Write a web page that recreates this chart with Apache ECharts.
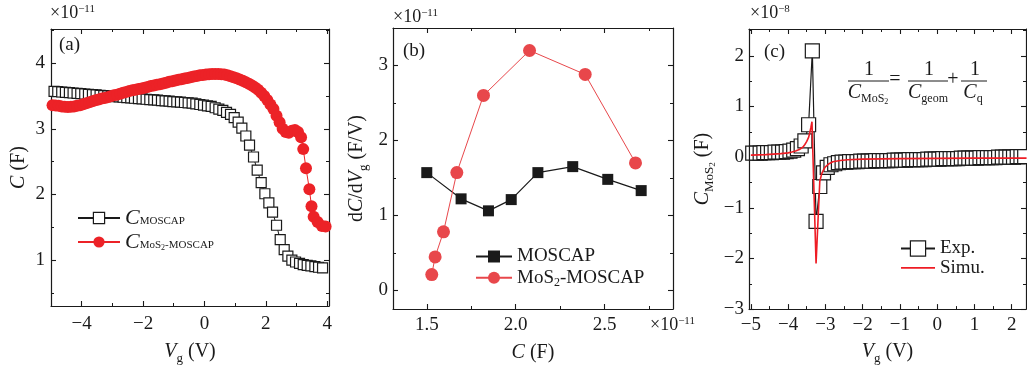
<!DOCTYPE html>
<html><head><meta charset="utf-8">
<script src="https://cdn.jsdelivr.net/npm/echarts@6/dist/echarts.min.js"></script>
<style>html,body{margin:0;padding:0;background:#fff}#c{width:1027px;height:370px}</style>
</head><body><div id="c"></div>
<script>
// ---------- Panel (a): C–Vg (x1e-11 F) ----------
const aVgMOSCAP = [-4.90,-4.78,-4.65,-4.53,-4.40,-4.28,-4.15,-4.03,-3.90,-3.78,-3.65,-3.53,-3.40,-3.28,-3.15,-3.03,-2.90,-2.78,-2.65,-2.53,-2.40,-2.28,-2.15,-2.03,-1.90,-1.78,-1.65,-1.53,-1.40,-1.28,-1.15,-1.03,-0.90,-0.78,-0.65,-0.53,-0.40,-0.28,-0.15,-0.03,0.10,0.22,0.35,0.47,0.60,0.72,0.85,0.97,1.10,1.22,1.35,1.47,1.60,1.72,1.85,1.97,2.10,2.22,2.35,2.47,2.60,2.72,2.85,2.97,3.10,3.22,3.35,3.47,3.60,3.72,3.85];
const aCMOSCAP = [3.57,3.565,3.56,3.555,3.55,3.545,3.54,3.535,3.53,3.525,3.52,3.515,3.51,3.505,3.50,3.495,3.49,3.485,3.48,3.475,3.47,3.465,3.46,3.455,3.45,3.445,3.44,3.435,3.43,3.425,3.42,3.415,3.41,3.405,3.40,3.395,3.39,3.38,3.37,3.36,3.35,3.34,3.32,3.30,3.28,3.25,3.22,3.17,3.10,3.01,2.89,2.75,2.57,2.37,2.18,2.01,1.87,1.73,1.53,1.31,1.16,1.06,1.00,0.97,0.95,0.93,0.92,0.91,0.90,0.89,0.88];
const aVgMoS2 = [-4.95,-4.85,-4.75,-4.65,-4.55,-4.45,-4.35,-4.25,-4.15,-4.05,-3.95,-3.85,-3.75,-3.65,-3.55,-3.45,-3.35,-3.25,-3.15,-3.05,-2.95,-2.85,-2.75,-2.65,-2.55,-2.45,-2.35,-2.25,-2.15,-2.05,-1.95,-1.85,-1.75,-1.65,-1.55,-1.45,-1.35,-1.25,-1.15,-1.05,-0.95,-0.85,-0.75,-0.65,-0.55,-0.45,-0.35,-0.25,-0.15,-0.05,0.05,0.15,0.25,0.35,0.45,0.55,0.65,0.75,0.85,0.95,1.05,1.15,1.25,1.35,1.45,1.55,1.65,1.75,1.85,1.95,2.05,2.15,2.25,2.35,2.45,2.55,2.65,2.75,2.85,2.95,3.05,3.15,3.22,3.31,3.42,3.49,3.56,3.69,3.83,3.95];
const aCMoS2 = [3.36,3.355,3.35,3.34,3.335,3.33,3.335,3.34,3.35,3.36,3.375,3.39,3.405,3.42,3.435,3.445,3.46,3.47,3.48,3.495,3.51,3.52,3.535,3.55,3.56,3.575,3.585,3.595,3.605,3.615,3.625,3.635,3.65,3.66,3.67,3.68,3.69,3.70,3.715,3.725,3.735,3.745,3.755,3.765,3.775,3.785,3.795,3.805,3.815,3.82,3.825,3.83,3.835,3.835,3.835,3.83,3.825,3.815,3.80,3.785,3.77,3.75,3.73,3.71,3.685,3.66,3.63,3.595,3.55,3.50,3.44,3.37,3.30,3.20,3.10,3.00,2.95,2.94,2.97,2.98,2.95,2.87,2.69,2.40,2.08,1.82,1.66,1.58,1.52,1.51];
const aXMajor = [-4,-2,0,2,4], aXMinor = [-5,-3,-1,1,3];
const aYMajor = [1,2,3,4], aYMinor = [0.5,1.5,2.5,3.5,4.5];

// ---------- Panel (b): dC/dVg vs C ----------
const bCMOSCAP = [1.50,1.693,1.847,1.975,2.125,2.321,2.518,2.706];
const bDMOSCAP = [1.57,1.22,1.06,1.21,1.57,1.65,1.48,1.33];
const bCMoS2 = [1.528,1.547,1.594,1.669,1.819,2.078,2.391,2.674];
const bDMoS2 = [0.21,0.445,0.78,1.57,2.60,3.20,2.88,1.70];
const bXMajor = [1.5,2.0,2.5], bXMinor = [1.75,2.25,2.75];
const bYMajor = [0,1,2,3], bYMinor = [0.5,1.5,2.5,3.5];

// ---------- Panel (c): C_MoS2 vs Vg (x1e-8 F) ----------
const cVgExp = [-4.95,-4.85,-4.75,-4.65,-4.55,-4.45,-4.35,-4.25,-4.15,-4.05,-3.95,-3.85,-3.75,-3.65,-3.55,-3.45,-3.35,-3.25,-3.15,-3.05,-2.95,-2.85,-2.75,-2.65,-2.55,-2.45,-2.35,-2.25,-2.15,-2.05,-1.95,-1.85,-1.75,-1.65,-1.55,-1.45,-1.35,-1.25,-1.15,-1.05,-0.95,-0.85,-0.75,-0.65,-0.55,-0.45,-0.35,-0.25,-0.15,-0.05,0.05,0.15,0.25,0.35,0.45,0.55,0.65,0.75,0.85,0.95,1.05,1.15,1.25,1.35,1.45,1.55,1.65,1.75,1.85,1.95,2.05,2.15,2.25,2.35];
const cExp = [0.08,0.08,0.08,0.09,0.09,0.09,0.10,0.10,0.10,0.11,0.12,0.14,0.17,0.22,0.32,0.64,2.10,-1.27,-0.58,-0.31,-0.20,-0.15,-0.13,-0.11,-0.10,-0.10,-0.09,-0.09,-0.09,-0.08,-0.08,-0.08,-0.08,-0.07,-0.07,-0.07,-0.07,-0.07,-0.06,-0.06,-0.06,-0.06,-0.05,-0.05,-0.05,-0.05,-0.05,-0.04,-0.04,-0.04,-0.04,-0.03,-0.03,-0.03,-0.03,-0.03,-0.02,-0.02,-0.02,-0.02,-0.02,-0.01,-0.01,-0.01,-0.01,-0.01,0.00,0.00,0.00,0.00,0.00,0.01,0.01,0.01];
const cVgSimu = [-5.0,-4.8,-4.6,-4.4,-4.2,-4.0,-3.9,-3.8,-3.7,-3.6,-3.55,-3.5,-3.45,-3.42,-3.39,-3.36,-3.25,-3.15,-3.1,-3.05,-3.0,-2.9,-2.8,-2.6,-2.4,-2.0,-1.0,0.0,1.0,2.4];
const cSimu = [0.04,0.045,0.05,0.06,0.07,0.085,0.10,0.12,0.15,0.20,0.25,0.31,0.39,0.48,0.58,0.70,-2.10,-0.48,-0.33,-0.25,-0.19,-0.13,-0.09,-0.065,-0.05,-0.04,-0.03,-0.025,-0.02,-0.02];
const cXMajor = [-5,-4,-3,-2,-1,0,1,2], cXMinor = [-4.5,-3.5,-2.5,-1.5,-0.5,0.5,1.5];
const cYMajor = [-3,-2,-1,0,1,2], cYMinor = [-2.5,-1.5,-0.5,0.5,1.5,2.5];

// ---------- style helpers ----------
const FONT = "'Liberation Serif', 'Times New Roman', serif";
const INK = '#1a1a1a';
const RED_A = '#ec2227', RED_B = '#e8474b', RED_C = '#ee1c24';
function tok(size, lh, extra) {
  return Object.assign({fontFamily: FONT, fontSize: size, lineHeight: lh, color: INK, fill: INK}, extra || {});
}
const TITLE_RICH = {
  n: tok(20, 24), i: tok(20, 24, {fontStyle: 'italic'}),
  s: tok(13, 24, {padding: [13, 0, 0, 0]}), ss: tok(9, 24, {padding: [20, 0, 0, 0]})
};
const minusFmt = v => String(v).replace('-', '\u2212');

function axesFor(dim, gi, o) {
  const pos = dim === 'x' ? ['bottom', 'top'] : ['left', 'right'];
  const base = {type: 'value', gridIndex: gi, min: o.min, max: o.max, splitLine: {show: false}, scale: true};
  const line = {show: true, onZero: false, lineStyle: {color: INK, width: 1.2}};
  const tickMaj = {show: true, inside: true, length: 5, customValues: o.major, lineStyle: {color: INK, width: 1.1}};
  const tickMin = {show: true, inside: true, length: 3, customValues: o.minor, lineStyle: {color: INK, width: 1}};
  return [
    Object.assign({}, base, {position: pos[0], axisLine: line, axisTick: tickMaj,
      axisLabel: {show: true, customValues: o.major, formatter: o.fmt || minusFmt, margin: o.margin,
        fontFamily: FONT, fontSize: 19, color: INK},
      name: o.name, nameLocation: 'middle', nameGap: o.nameGap,
      nameTextStyle: {fontFamily: FONT, color: INK, rich: TITLE_RICH}}),
    Object.assign({}, base, {position: pos[0], axisLine: {show: false, onZero: false}, axisTick: tickMin, axisLabel: {show: false}}),
    Object.assign({}, base, {position: pos[1], axisLine: line, axisTick: tickMaj, axisLabel: {show: false}}),
    Object.assign({}, base, {position: pos[1], axisLine: {show: false, onZero: false}, axisTick: tickMin, axisLabel: {show: false}})
  ];
}
const zip = (xs, ys) => xs.map((x, k) => [x, ys[k]]);

const xAxes = [].concat(
  axesFor('x', 0, {min: -5, max: 4.06, major: aXMajor, minor: aXMinor, margin: 9, name: '{i|V}{s|g}{n| (V)}', nameGap: 29}),
  axesFor('x', 1, {min: 1.31, max: 2.885, major: bXMajor, minor: bXMinor, margin: 7, fmt: v => Number(v).toFixed(1), name: '{i|C}{n| (F)}', nameGap: 32}),
  axesFor('x', 2, {min: -5.05, max: 2.385, major: cXMajor, minor: cXMinor, margin: 6, name: '{i|V}{s|g}{n| (V)}', nameGap: 30})
);
const yAxes = [].concat(
  axesFor('y', 0, {min: 0.3, max: 4.52, major: aYMajor, minor: aYMinor, margin: 6, name: '{i|C}{n| (F)}', nameGap: 20}),
  axesFor('y', 1, {min: -0.25, max: 3.5, major: bYMajor, minor: bYMinor, margin: 5, name: '{n|d}{i|C}{n|/d}{i|V}{s|g}{n| (F/V)}', nameGap: 24}),
  axesFor('y', 2, {min: -3, max: 2.53, major: cYMajor, minor: cYMinor, margin: 5, name: '{i|C}{s|MoS}{ss|2}{n| (F)}', nameGap: 34})
);

const series = [
  {name: 'C_MOSCAP', type: 'line', xAxisIndex: 0, yAxisIndex: 0, data: zip(aVgMOSCAP, aCMOSCAP),
   symbol: 'rect', symbolSize: 10, itemStyle: {color: '#fff', borderColor: INK, borderWidth: 1.2},
   lineStyle: {color: INK, width: 1}, z: 2},
  {name: 'C_MoS2-MOSCAP', type: 'line', xAxisIndex: 0, yAxisIndex: 0, data: zip(aVgMoS2, aCMoS2),
   symbol: 'circle', symbolSize: 12, itemStyle: {color: RED_A}, lineStyle: {color: RED_A, width: 1}, z: 3},
  {name: 'MOSCAP', type: 'line', xAxisIndex: 4, yAxisIndex: 4, data: zip(bCMOSCAP, bDMOSCAP),
   symbol: 'rect', symbolSize: 11, itemStyle: {color: INK}, lineStyle: {color: INK, width: 1.2}, z: 2},
  {name: 'MoS2-MOSCAP', type: 'line', xAxisIndex: 4, yAxisIndex: 4, data: zip(bCMoS2, bDMoS2),
   symbol: 'circle', symbolSize: 13, itemStyle: {color: RED_B}, lineStyle: {color: RED_B, width: 1}, z: 3},
  {name: 'Exp.', type: 'line', xAxisIndex: 8, yAxisIndex: 8, data: zip(cVgExp, cExp),
   symbol: 'rect', symbolSize: 14, itemStyle: {color: '#fff', borderColor: INK, borderWidth: 1.2},
   lineStyle: {color: INK, width: 1.2}, z: 2},
  {name: 'Simu.', type: 'line', xAxisIndex: 8, yAxisIndex: 8, data: zip(cVgSimu, cSimu),
   symbol: 'none', showSymbol: false, color: RED_C, itemStyle: {color: RED_C}, lineStyle: {color: RED_C, width: 1.6}, z: 3}
];

const legA = {'C_MOSCAP': '{i|C}{s|MOSCAP}', 'C_MoS2-MOSCAP': '{i|C}{s|MoS}{ss|2}{s|-MOSCAP}'};
const legB = {'MOSCAP': '{n|MOSCAP}', 'MoS2-MOSCAP': '{n|MoS}{s|2}{n|-MOSCAP}'};
const legends = [
  {orient: 'vertical', left: 77, top: 207, padding: 0, itemWidth: 42, itemHeight: 14, itemGap: 2,
   data: ['C_MOSCAP', 'C_MoS2-MOSCAP'], selectedMode: false, itemStyle: {borderWidth: 1.2},
   formatter: n => legA[n],
   textStyle: {fontFamily: FONT, color: INK, rich: {
     i: tok(22, 24, {fontStyle: 'italic'}), s: tok(11, 24, {padding: [6, 0, 0, 0]}), ss: tok(8, 24, {padding: [12, 0, 0, 0]})}}},
  {orient: 'vertical', left: 475, top: 247, padding: 0, itemWidth: 36, itemHeight: 15, itemGap: 0.3,
   data: ['MOSCAP', 'MoS2-MOSCAP'], selectedMode: false, itemStyle: {borderWidth: 0},
   formatter: n => legB[n],
   textStyle: {fontFamily: FONT, color: INK, rich: {
     n: tok(19, 19), s: tok(12, 19, {padding: [11, 0, 0, 0]})}}},
  {orient: 'vertical', left: 900, top: 239, padding: 0, itemWidth: 34, itemHeight: 19, itemGap: 0.4,
   data: [{name: 'Exp.'}, {name: 'Simu.', icon: 'path://M0,0H34V1.6H0Z', itemStyle: {borderWidth: 0}}],
   selectedMode: false, itemStyle: {borderWidth: 1.2},
   textStyle: {fontFamily: FONT, color: INK, fontSize: 19, lineHeight: 19}}
];

function gtext(x, y, text, rich, align) {
  return {type: 'text', x: x, y: y, z: 100, silent: true,
    style: {text: text, rich: rich, align: align || 'left', verticalAlign: 'middle',
      textAlign: align || 'left', textVerticalAlign: 'middle', fontFamily: FONT, fontSize: 19, fill: INK}};
}
function gline(x1, x2, y) {
  return {type: 'line', z: 100, silent: true, shape: {x1: x1, y1: y, x2: x2, y2: y}, style: {stroke: INK, lineWidth: 1}};
}
const EXP_RICH = {n: tok(18, 22), p: tok(11, 22, {padding: [0, 0, 8, 0]})};
const LAB_RICH = {n: tok(19, 22)};
const F_RICH = {n: tok(20, 24), i: tok(20, 24, {fontStyle: 'italic'}),
  s: tok(12, 24, {padding: [12, 0, 0, 0]}), ss: tok(8, 24, {padding: [18, 0, 0, 0]})};

const graphics = [
  gtext(50, 13, '{n|\u00d710}{p|\u221211}', EXP_RICH),
  gtext(393, 17, '{n|\u00d710}{p|\u221211}', EXP_RICH),
  gtext(650, 325, '{n|\u00d710}{p|\u221211}', EXP_RICH),
  gtext(750, 13, '{n|\u00d710}{p|\u22128}', EXP_RICH),
  gtext(59, 45, '{n|(a)}', LAB_RICH),
  gtext(403, 51, '{n|(b)}', LAB_RICH),
  gtext(764, 52, '{n|(c)}', LAB_RICH),
  // formula 1/C_MoS2 = 1/C_geom + 1/C_q
  gtext(869, 70, '{n|1}', F_RICH, 'center'),
  gline(848, 889, 81),
  gtext(868, 93, '{i|C}{s|MoS}{ss|2}', F_RICH, 'center'),
  gtext(895, 80, '{n|=}', F_RICH, 'center'),
  gtext(929, 70, '{n|1}', F_RICH, 'center'),
  gline(908, 948, 81),
  gtext(928, 93, '{i|C}{s|geom}', F_RICH, 'center'),
  gtext(953, 80, '{n|+}', F_RICH, 'center'),
  gtext(975, 70, '{n|1}', F_RICH, 'center'),
  gline(961, 987, 81),
  gtext(973, 93, '{i|C}{s|q}', F_RICH, 'center')
];

const chart = echarts.init(document.getElementById('c'), null, {renderer: 'canvas'});
chart.setOption({
  animation: false,
  backgroundColor: '#fff',
  textStyle: {fontFamily: FONT},
  grid: [
    {left: 51, top: 29, width: 278, height: 277},
    {left: 393, top: 28, width: 280, height: 281},
    {left: 749, top: 29, width: 277, height: 281}
  ],
  xAxis: xAxes,
  yAxis: yAxes,
  legend: legends,
  series: series,
  graphic: graphics
});
</script>
</body></html>
